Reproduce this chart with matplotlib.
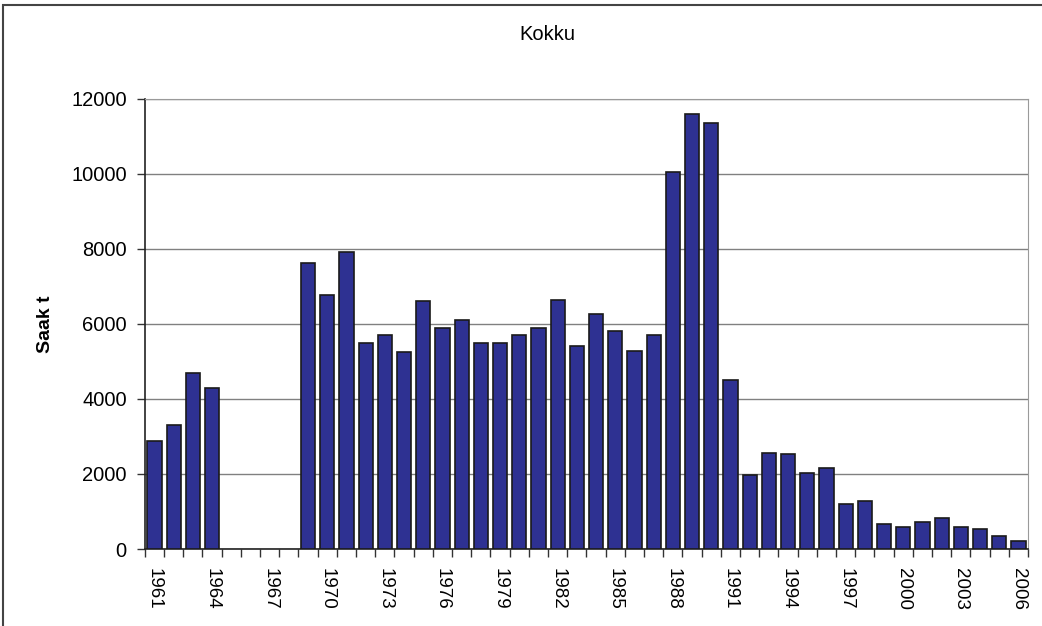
import matplotlib
matplotlib.use("Agg")
import matplotlib.pyplot as plt
import matplotlib.patches as patches
import numpy as np

# Data (1965-1968 have no bars)
years = list(range(1961, 2007))
harvest = [2880, 3300, 4700, 4290, np.nan, np.nan, np.nan, np.nan,
           7630, 6760, 7920, 5490, 5700, 5250, 6610, 5900, 6110, 5490,
           5490, 5700, 5900, 6640, 5400, 6260, 5810, 5290, 5700, 10060,
           11590, 11350, 4500, 1980, 2560, 2520, 2020, 2150, 1200, 1290,
           665, 576, 709, 833, 576, 541, 337, 213]
yticks = [0, 2000, 4000, 6000, 8000, 10000, 12000]
title = "Kokku"
ylabel = "Saak t"


def main():
    plt.rcParams['font.family'] = ['Liberation Sans', 'DejaVu Sans']
    fig = plt.figure(figsize=(10.42, 6.26), dpi=100)
    ax = fig.add_axes([0.139, 0.123, 0.8476, 0.719])

    x = np.arange(len(years))
    ax.bar(x, harvest, width=0.74, color='#2E3192', edgecolor='#1a1a1a',
           linewidth=1.2, zorder=3)

    ax.set_xlim(-0.5, len(years) - 0.5)
    ax.set_ylim(0, 12000)
    ax.set_yticks(yticks)
    ax.yaxis.grid(True, color='#808080', linewidth=1, zorder=0)

    # labels every third year, tick marks between bars
    major = [i for i in x if (years[i] - 1961) % 3 == 0]
    ax.set_xticks(major)
    ax.set_xticklabels([str(years[i]) for i in major], rotation=270)
    ax.set_xticks(np.arange(len(years) + 1) - 0.5, minor=True)
    ax.tick_params(axis='x', which='major', length=0, pad=14, labelsize=13.5)
    ax.tick_params(axis='x', which='minor', length=6, width=1, color='#333333')
    ax.tick_params(axis='y', length=6, width=1, labelsize=14.5, pad=7,
                   color='#333333')

    for s in ['top', 'right']:
        ax.spines[s].set_color('#9a9a9a')
    for s in ['left', 'bottom']:
        ax.spines[s].set_color('#222222')
        ax.spines[s].set_linewidth(1.2)

    ax.set_ylabel(ylabel, fontsize=14, fontweight='bold')
    ax.yaxis.set_label_coords(-0.103, 0.5)
    fig.text(0.5255, 0.9446, title, ha='center', va='center', fontsize=14.5)

    # outer chart frame
    frame = patches.Rectangle((3 / 1042, -0.1), 1.2, 1.1 - 5 / 626,
                              transform=fig.transFigure, fill=False,
                              edgecolor='#444444', linewidth=1.5)
    fig.patches.append(frame)

    fig.savefig("out.png", dpi=100)


main()
